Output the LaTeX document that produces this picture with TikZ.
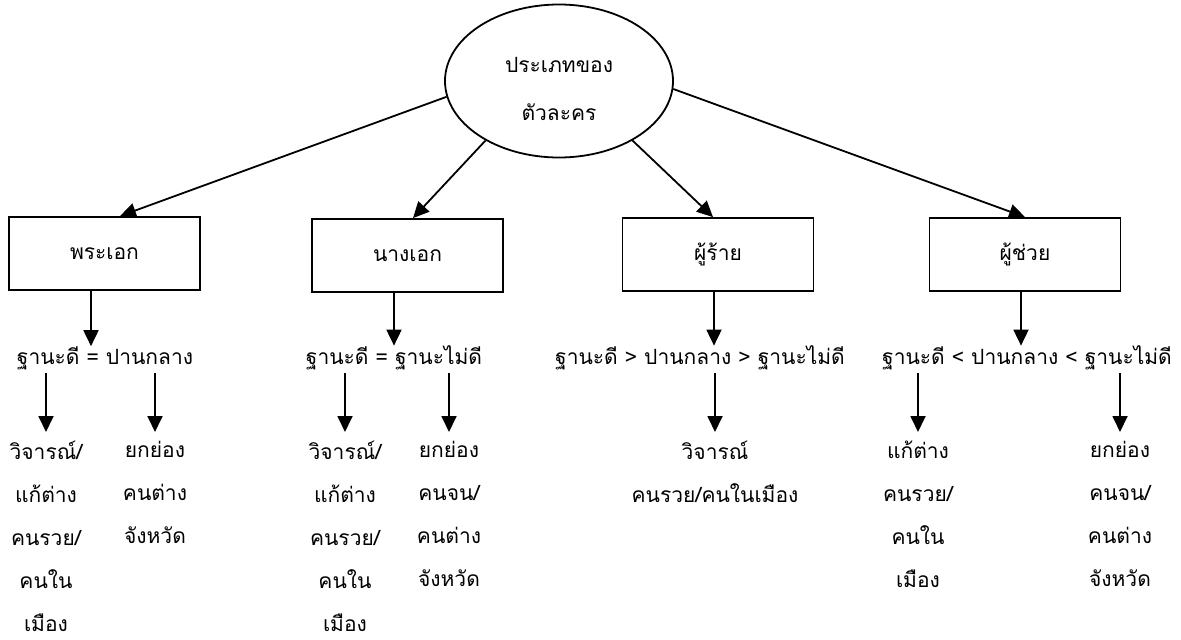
\documentclass[tikz,border=0pt]{standalone}
\usepackage{fontspec}
\setmainfont[Script=Thai]{Loma}
\usetikzlibrary{arrows.meta,shapes.geometric,calc}
\tikzset{
  arr/.style={line width=1.8pt,-{Triangle[length=16pt,width=15pt]}},
  box/.style={draw,line width=1.8pt,minimum width=191pt,minimum height=73pt,inner sep=0pt},
  lbl/.style={inner sep=0pt,align=center},
  every node/.style={font=\fontsize{21}{43}\selectfont},
}
\begin{document}
\begin{tikzpicture}[x=1pt,y=-1pt]
\useasboundingbox (0,0) rectangle (1181,640);
\node[draw,ellipse,line width=1.8pt,minimum width=228pt,minimum height=153pt,inner sep=0pt] (ell) at (559,81) {};
\node[lbl,font=\fontsize{21}{48}\selectfont] (ellt) at (559,89) {ประเภทของ\\ตัวละคร};
\node[box] (b1) at (104.5,253.5) {พระเอก};
\node[box] (b2) at (407.5,255.5) {นางเอก};
\node[box] (b3) at (718,254.5) {ผู้ร้าย};
\node[box] (b4) at (1025,254.5) {ผู้ช่วย};
\draw[arr] (ell.188) -- ([xshift=15.5pt]b1.north);
\draw[arr] (ell.219) -- ([xshift=5.5pt]b2.north);
\draw[arr] (ell.321) -- ([xshift=-5pt]b3.north);
\draw[arr] (ell.356.5) -- (b4.north);
\node[lbl] (l1) at (105,358) {ฐานะดี = ปานกลาง};
\node[lbl] (l2) at (394,358) {ฐานะดี = ฐานะไม่ดี};
\node[lbl] (l3) at (700,358) {ฐานะดี > ปานกลาง > ฐานะไม่ดี};
\node[lbl] (l4) at (1027,358) {ฐานะดี < ปานกลาง < ฐานะไม่ดี};
\draw[arr] ([xshift=-13.5pt]b1.south) -- ([xshift=-13.5pt]b1.south |- l1.north);
\draw[arr] ([xshift=-13.5pt]b2.south) -- ([xshift=-13.5pt]b2.south |- l2.north);
\draw[arr] ([xshift=-4pt]b3.south) -- ([xshift=-4pt]b3.south |- l3.north);
\draw[arr] ([xshift=-4pt]b4.south) -- ([xshift=-4pt]b4.south |- l4.north);
\node[lbl,anchor=north] (c11) at (46,441) {วิจารณ์/\\แก้ต่าง\\คนรวย/\\คนใน\\เมือง};
\node[lbl,anchor=north] (c12) at (155,441) {ยกย่อง\\คนต่าง\\จังหวัด};
\node[lbl,anchor=north] (c21) at (345,441) {วิจารณ์/\\แก้ต่าง\\คนรวย/\\คนใน\\เมือง};
\node[lbl,anchor=north] (c22) at (449,441) {ยกย่อง\\คนจน/\\คนต่าง\\จังหวัด};
\node[lbl,anchor=north] (c31) at (715,441) {วิจารณ์\\คนรวย/คนในเมือง};
\node[lbl,anchor=north] (c41) at (918,441) {แก้ต่าง\\คนรวย/\\คนใน\\เมือง};
\node[lbl,anchor=north] (c42) at (1120,441) {ยกย่อง\\คนจน/\\คนต่าง\\จังหวัด};
\foreach \c/\l in {c11/l1,c12/l1,c21/l2,c22/l2,c31/l3,c41/l4,c42/l4}
  \draw[arr] (\c.north |- \l.south) ++(0,3) -- ([yshift=9pt]\c.north);
\end{tikzpicture}
\end{document}
